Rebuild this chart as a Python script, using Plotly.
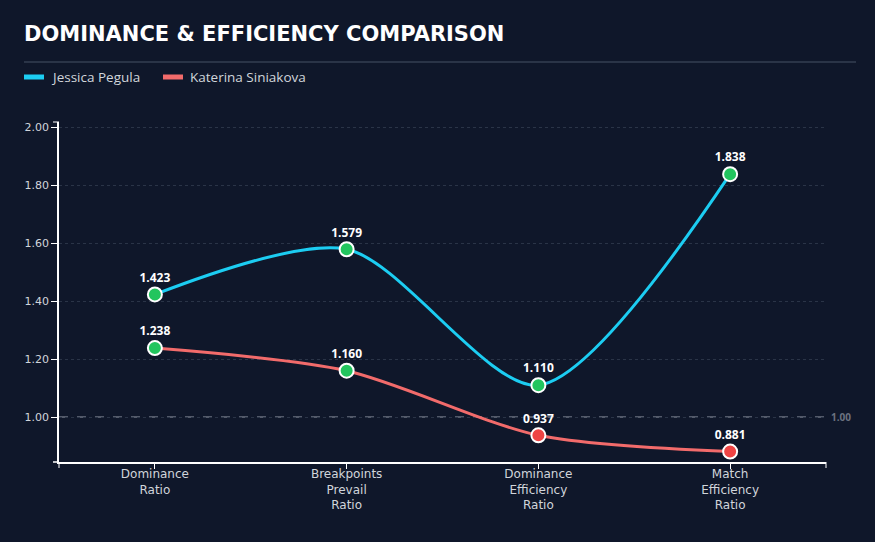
import plotly.graph_objects as go

categories = ["Dominance<br>Ratio", "Breakpoints<br>Prevail<br>Ratio", "Dominance<br>Efficiency<br>Ratio", "Match<br>Efficiency<br>Ratio"]
pegula = [1.423, 1.579, 1.110, 1.838]
siniakova = [1.238, 1.160, 0.937, 0.881]
series_names = ["Jessica Pegula", "Katerina Siniakova"]
series_colors = ["#1ccdf2", "#f26b6b"]
y_ticks = [1.0, 1.2, 1.4, 1.6, 1.8, 2.0]

BG = "#0f172a"
W, H = 875, 542
L, R, T, B = 59, 49, 122, 80
PW, PH = W - L - R, H - T - B

def px(x):
    return (x - L) / PW

def py(y):
    return (H - B - y) / PH

xpos = list(range(len(categories)))

fig = go.Figure()
for name, vals, col in zip(series_names, [pegula, siniakova], series_colors):
    fig.add_trace(go.Scatter(
        x=xpos, y=vals, name=name, mode="lines",
        line=dict(color=col, width=3, shape="spline", smoothing=0.8),
        hoverinfo="skip", showlegend=False,
    ))
for name, vals in zip(series_names, [pegula, siniakova]):
    fig.add_trace(go.Scatter(
        x=xpos, y=vals, mode="markers+text", showlegend=False,
        marker=dict(size=14, color=["#22c55e" if v >= 1 else "#ef4444" for v in vals],
                    line=dict(color="white", width=2)),
        text=[f"{v:.3f}" for v in vals], textposition="top center",
        textfont=dict(color="white", size=12, family="Open Sans", weight="bold"),
        cliponaxis=False, hoverinfo="skip",
    ))

# reference line at 1.00
fig.add_shape(type="line", xref="paper", x0=0, x1=1, y0=1.0, y1=1.0,
              line=dict(color="#6b7280", width=1.5, dash="dash"), layer="below")
fig.add_annotation(xref="paper", x=1.0, y=1.0, text="1.00", showarrow=False,
                   xanchor="left", xshift=3, font=dict(color="#6b7280", size=10, family="Open Sans", weight="bold"))

# header separator
fig.add_shape(type="line", xref="paper", yref="paper", x0=px(24), x1=px(856), y0=py(62), y1=py(62),
              line=dict(color="#2a3447", width=2))

# legend (manual)
leg_items = [(24, 49), (163, 188)]
for (rx, tx), name, col in zip(leg_items, series_names, series_colors):
    fig.add_shape(type="rect", xref="paper", yref="paper", x0=px(rx), x1=px(rx + 20),
                  y0=py(79.5), y1=py(74.5), fillcolor=col, line=dict(width=0))
    fig.add_annotation(xref="paper", yref="paper", x=px(tx), y=py(77), text=name, showarrow=False,
                       xanchor="left", yanchor="middle",
                       font=dict(color="#d1d5db", size=13.5, family="Open Sans"))

# outer ticks
fig.add_shape(type="line", xref="paper", yref="paper", x0=0, x1=0, y0=0, y1=py(468),
              line=dict(color="white", width=1))
fig.add_shape(type="line", xref="paper", yref="paper", x0=1, x1=1, y0=0, y1=py(468),
              line=dict(color="white", width=1))
fig.add_shape(type="line", xref="paper", yref="paper", x0=px(53), x1=0, y0=0, y1=0,
              line=dict(color="white", width=1.5))
fig.add_shape(type="line", xref="paper", yref="paper", x0=px(53), x1=0, y0=py(122), y1=py(122),
              line=dict(color="white", width=1))

fig.update_layout(
    width=W, height=H,
    paper_bgcolor=BG, plot_bgcolor=BG,
    margin=dict(l=L, r=R, t=T, b=B),
    title=dict(text="<b>DOMINANCE &amp; EFFICIENCY COMPARISON</b>", x=24 / W, xanchor="left",
               y=1 - 34 / H, yanchor="middle",
               font=dict(color="white", size=21, family="DejaVu Sans")),
    showlegend=False,
    hovermode=False,
    xaxis=dict(range=[-0.5, 3.5], tickvals=xpos, ticktext=categories,
               showgrid=False, zeroline=False, showline=True, linecolor="white", linewidth=1.5,
               ticks="outside", ticklen=5, tickcolor="white", ticklabelstandoff=-5,
               tickfont=dict(color="#d1d5db", size=12, family="DejaVu Sans")),
    yaxis=dict(range=[0.845, 2.018], tickvals=y_ticks, tickformat=".2f",
               showgrid=True, gridcolor="#2a3447", griddash="dot", gridwidth=1,
               zeroline=False, showline=True, linecolor="white", linewidth=1.5,
               ticks="outside", ticklen=6, tickcolor="white",
               tickfont=dict(color="#d1d5db", size=11, family="DejaVu Sans")),
)
fig.write_html("out.html", config={"displayModeBar": False},
               post_script="document.body.style.margin='0';document.body.style.background='%s';" % BG)
